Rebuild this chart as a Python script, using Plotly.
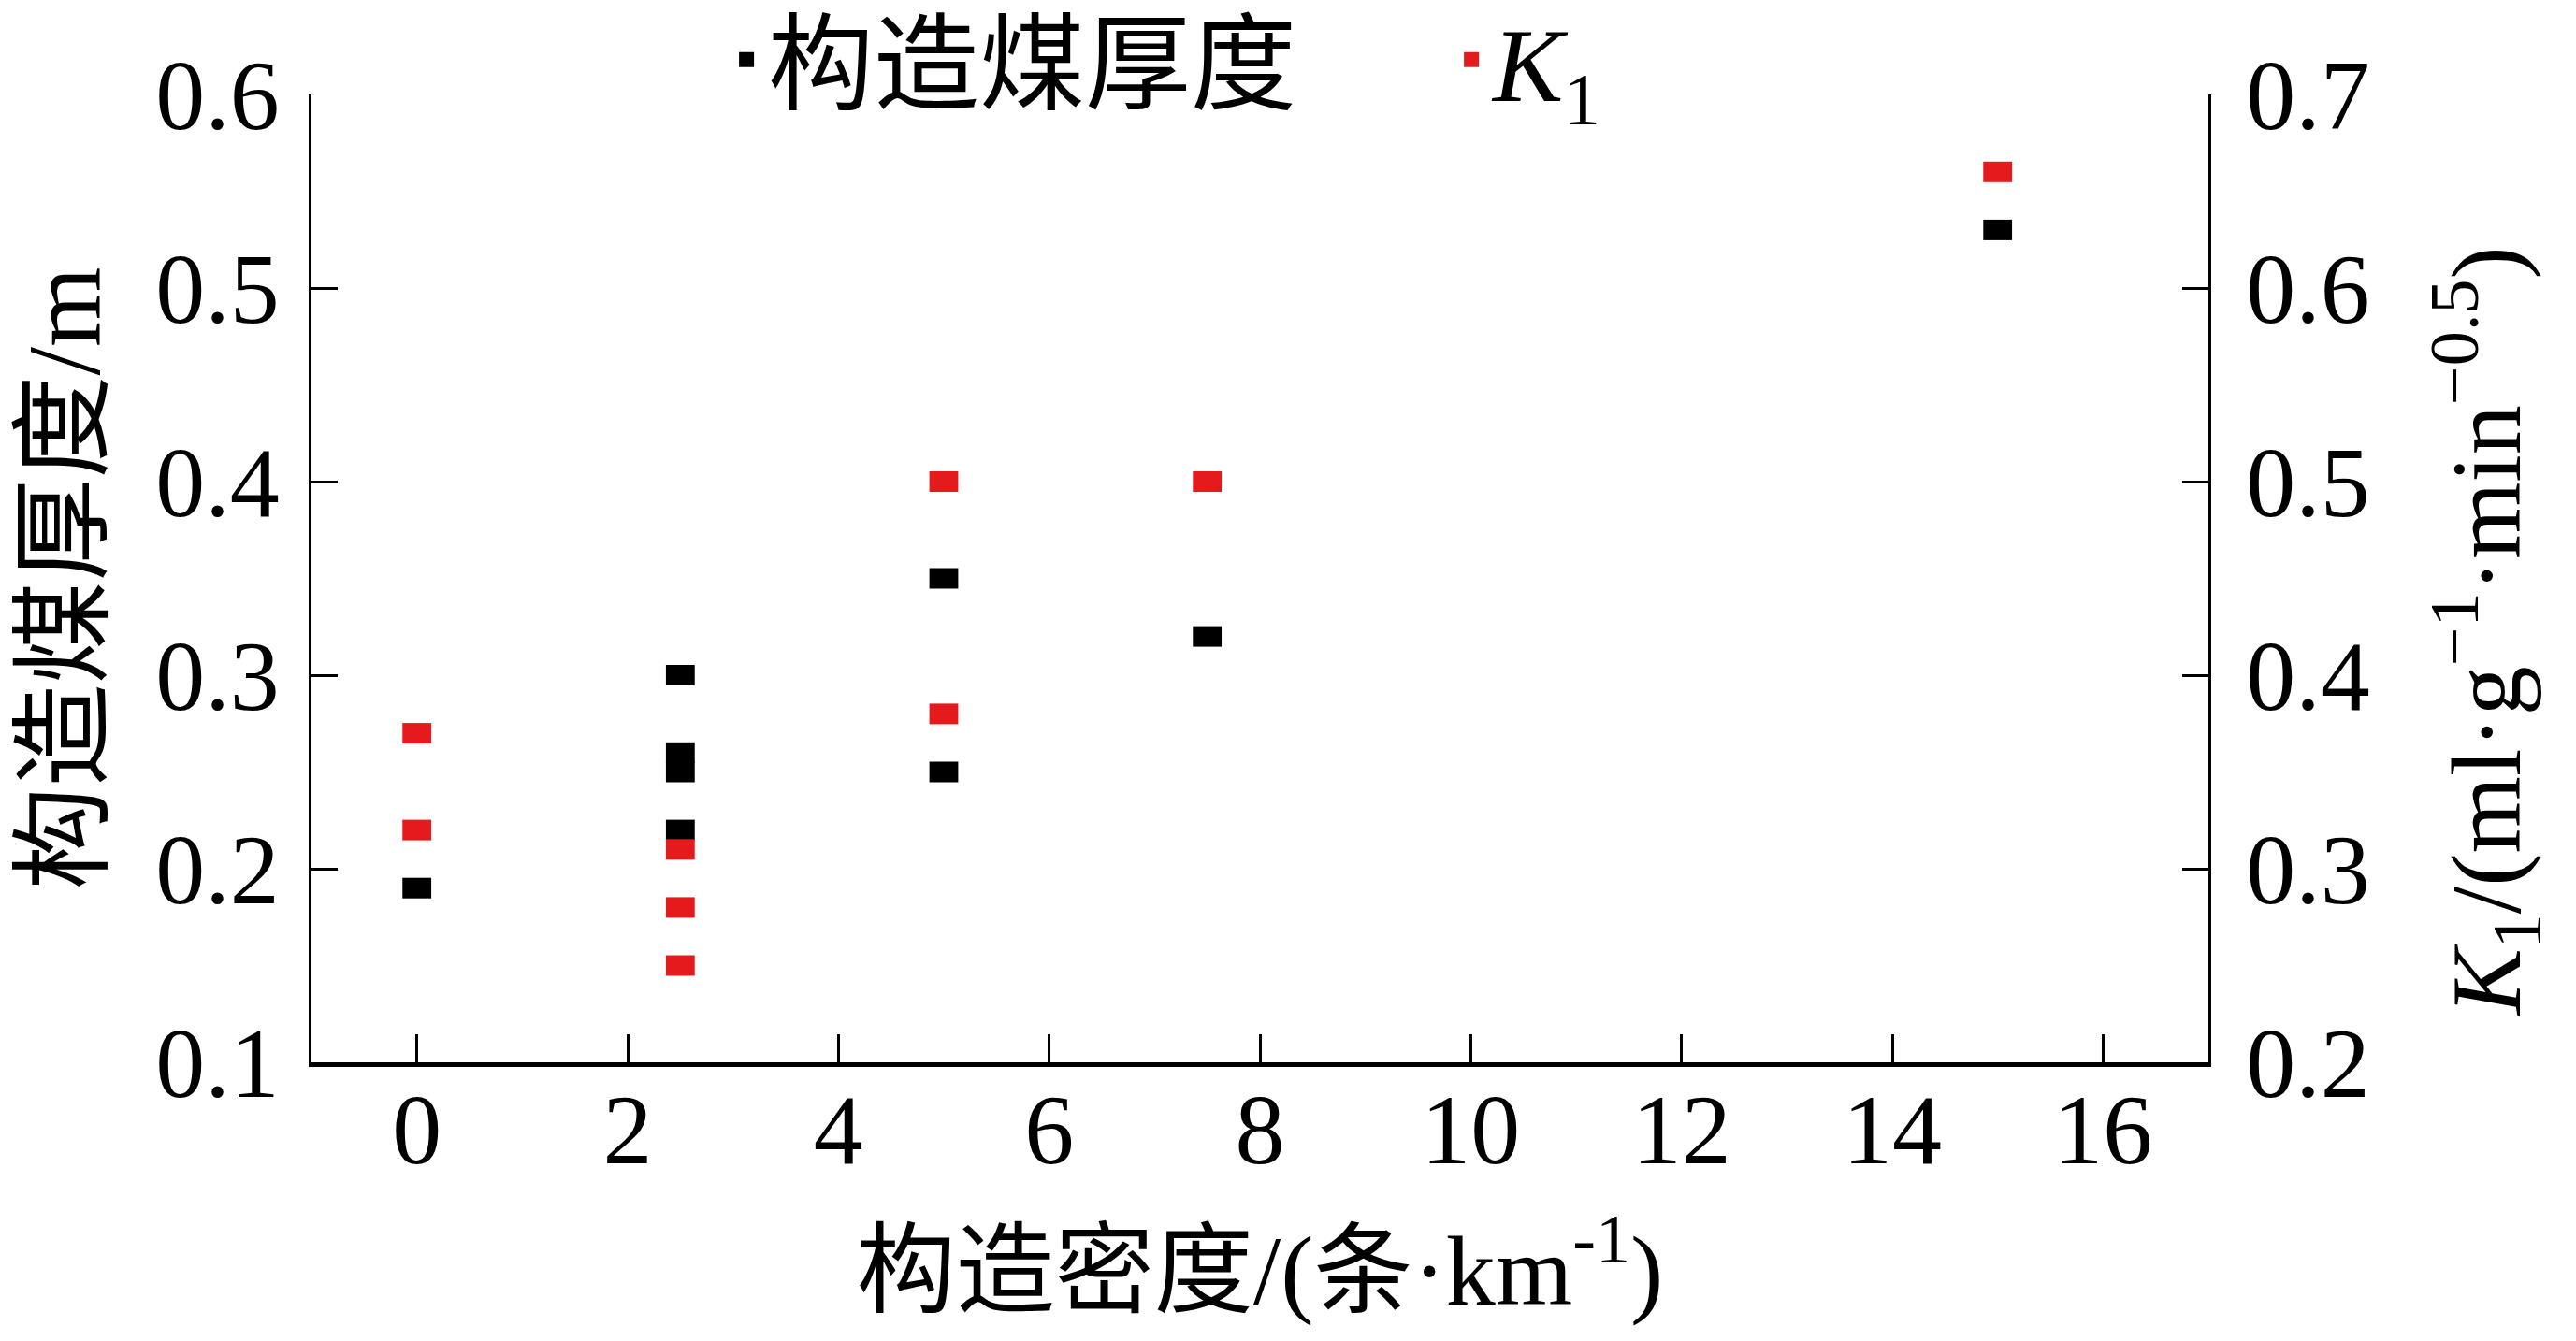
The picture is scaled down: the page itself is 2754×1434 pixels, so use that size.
import plotly.graph_objects as go

# Data
x_thick = [0, 2.5, 2.5, 2.5, 2.5, 5, 5, 7.5, 15]
y_thick = [0.19, 0.30, 0.26, 0.25, 0.22, 0.35, 0.25, 0.32, 0.53]

x_k1 = [0, 0, 2.5, 2.5, 2.5, 5, 5, 7.5, 15]
y_k1 = [0.37, 0.32, 0.31, 0.28, 0.25, 0.50, 0.38, 0.50, 0.66]

x_ticks = [0, 2, 4, 6, 8, 10, 12, 14, 16]
yl_ticks = [0.1, 0.2, 0.3, 0.4, 0.5, 0.6]
yr_ticks = [0.2, 0.3, 0.4, 0.5, 0.6, 0.7]

name_thick = "构造煤厚度"
name_k1 = "<i>K</i><sub>1</sub>"
title_k1 = "<i>K</i><sub>1</sub>/(ml·g<sup>−1</sup>·min<sup>−0.5</sup>)"

BLACK = "#000000"
RED = "#E41A1C"
FONT = "Liberation Serif, Noto Sans CJK SC"

fig = go.Figure()

mk = dict(symbol="line-ew", size=22)
fig.add_trace(go.Scatter(
    x=x_thick, y=y_thick, mode="markers", name=name_thick, showlegend=False,
    marker=dict(color=BLACK, line=dict(color=BLACK, width=22), **mk),
    yaxis="y", cliponaxis=False))
fig.add_trace(go.Scatter(
    x=x_k1, y=y_k1, mode="markers", name=name_k1, showlegend=False,
    marker=dict(color=RED, line=dict(color=RED, width=22), **mk),
    yaxis="y2", cliponaxis=False))
# legend entries
fig.add_trace(go.Scatter(x=[None], y=[None], mode="markers", name=name_thick,
                         marker=dict(symbol="square", size=16, color=BLACK)))
fig.add_trace(go.Scatter(x=[None], y=[None], mode="markers", name=name_k1,
                         marker=dict(symbol="square", size=16, color=RED), yaxis="y2"))

fig.update_layout(
    width=2754, height=1434,
    margin=dict(l=325, r=401, t=93, b=306, autoexpand=False),
    paper_bgcolor="white", plot_bgcolor="white",
    font=dict(family=FONT, size=106, color="black"),
    showlegend=True,
    legend=dict(orientation="h", x=0.218, xanchor="left", y=1.036, yanchor="middle",
                font=dict(size=113), bgcolor="rgba(0,0,0,0)", entrywidth=724,
                itemwidth=36, tracegroupgap=0),
    xaxis=dict(range=[-1, 17], tickvals=x_ticks, ticks="inside", ticklen=30, tickwidth=3,
               tickcolor="black", showline=True, linewidth=5, linecolor="black",
               showgrid=False, zeroline=False, ticklabelstandoff=-24,
               title=dict(text="构造密度/(条·km<sup>-1</sup>)", standoff=56,
                          font=dict(size=106))),
    yaxis=dict(range=[0.1, 0.6], tickvals=yl_ticks, tickformat=".1f", ticks="inside",
               ticklen=28, tickwidth=3, tickcolor="black", showline=True, linewidth=3,
               linecolor="black", showgrid=False, zeroline=False, ticklabelstandoff=10,
               title=dict(text="构造煤厚度/m", standoff=45, font=dict(size=110))),
    yaxis2=dict(range=[0.2, 0.7], tickvals=yr_ticks, tickformat=".1f", ticks="inside",
                ticklen=28, tickwidth=3, tickcolor="black", showline=True, linewidth=3,
                linecolor="black", showgrid=False, zeroline=False, overlaying="y",
                side="right", ticklabelstandoff=16),
    annotations=[dict(text=title_k1, xref="paper", yref="paper", x=1.146, y=0.4454,
                      xanchor="center", yanchor="middle", textangle=-90, showarrow=False,
                      font=dict(size=106))],
)

fig.write_html("out.html")
